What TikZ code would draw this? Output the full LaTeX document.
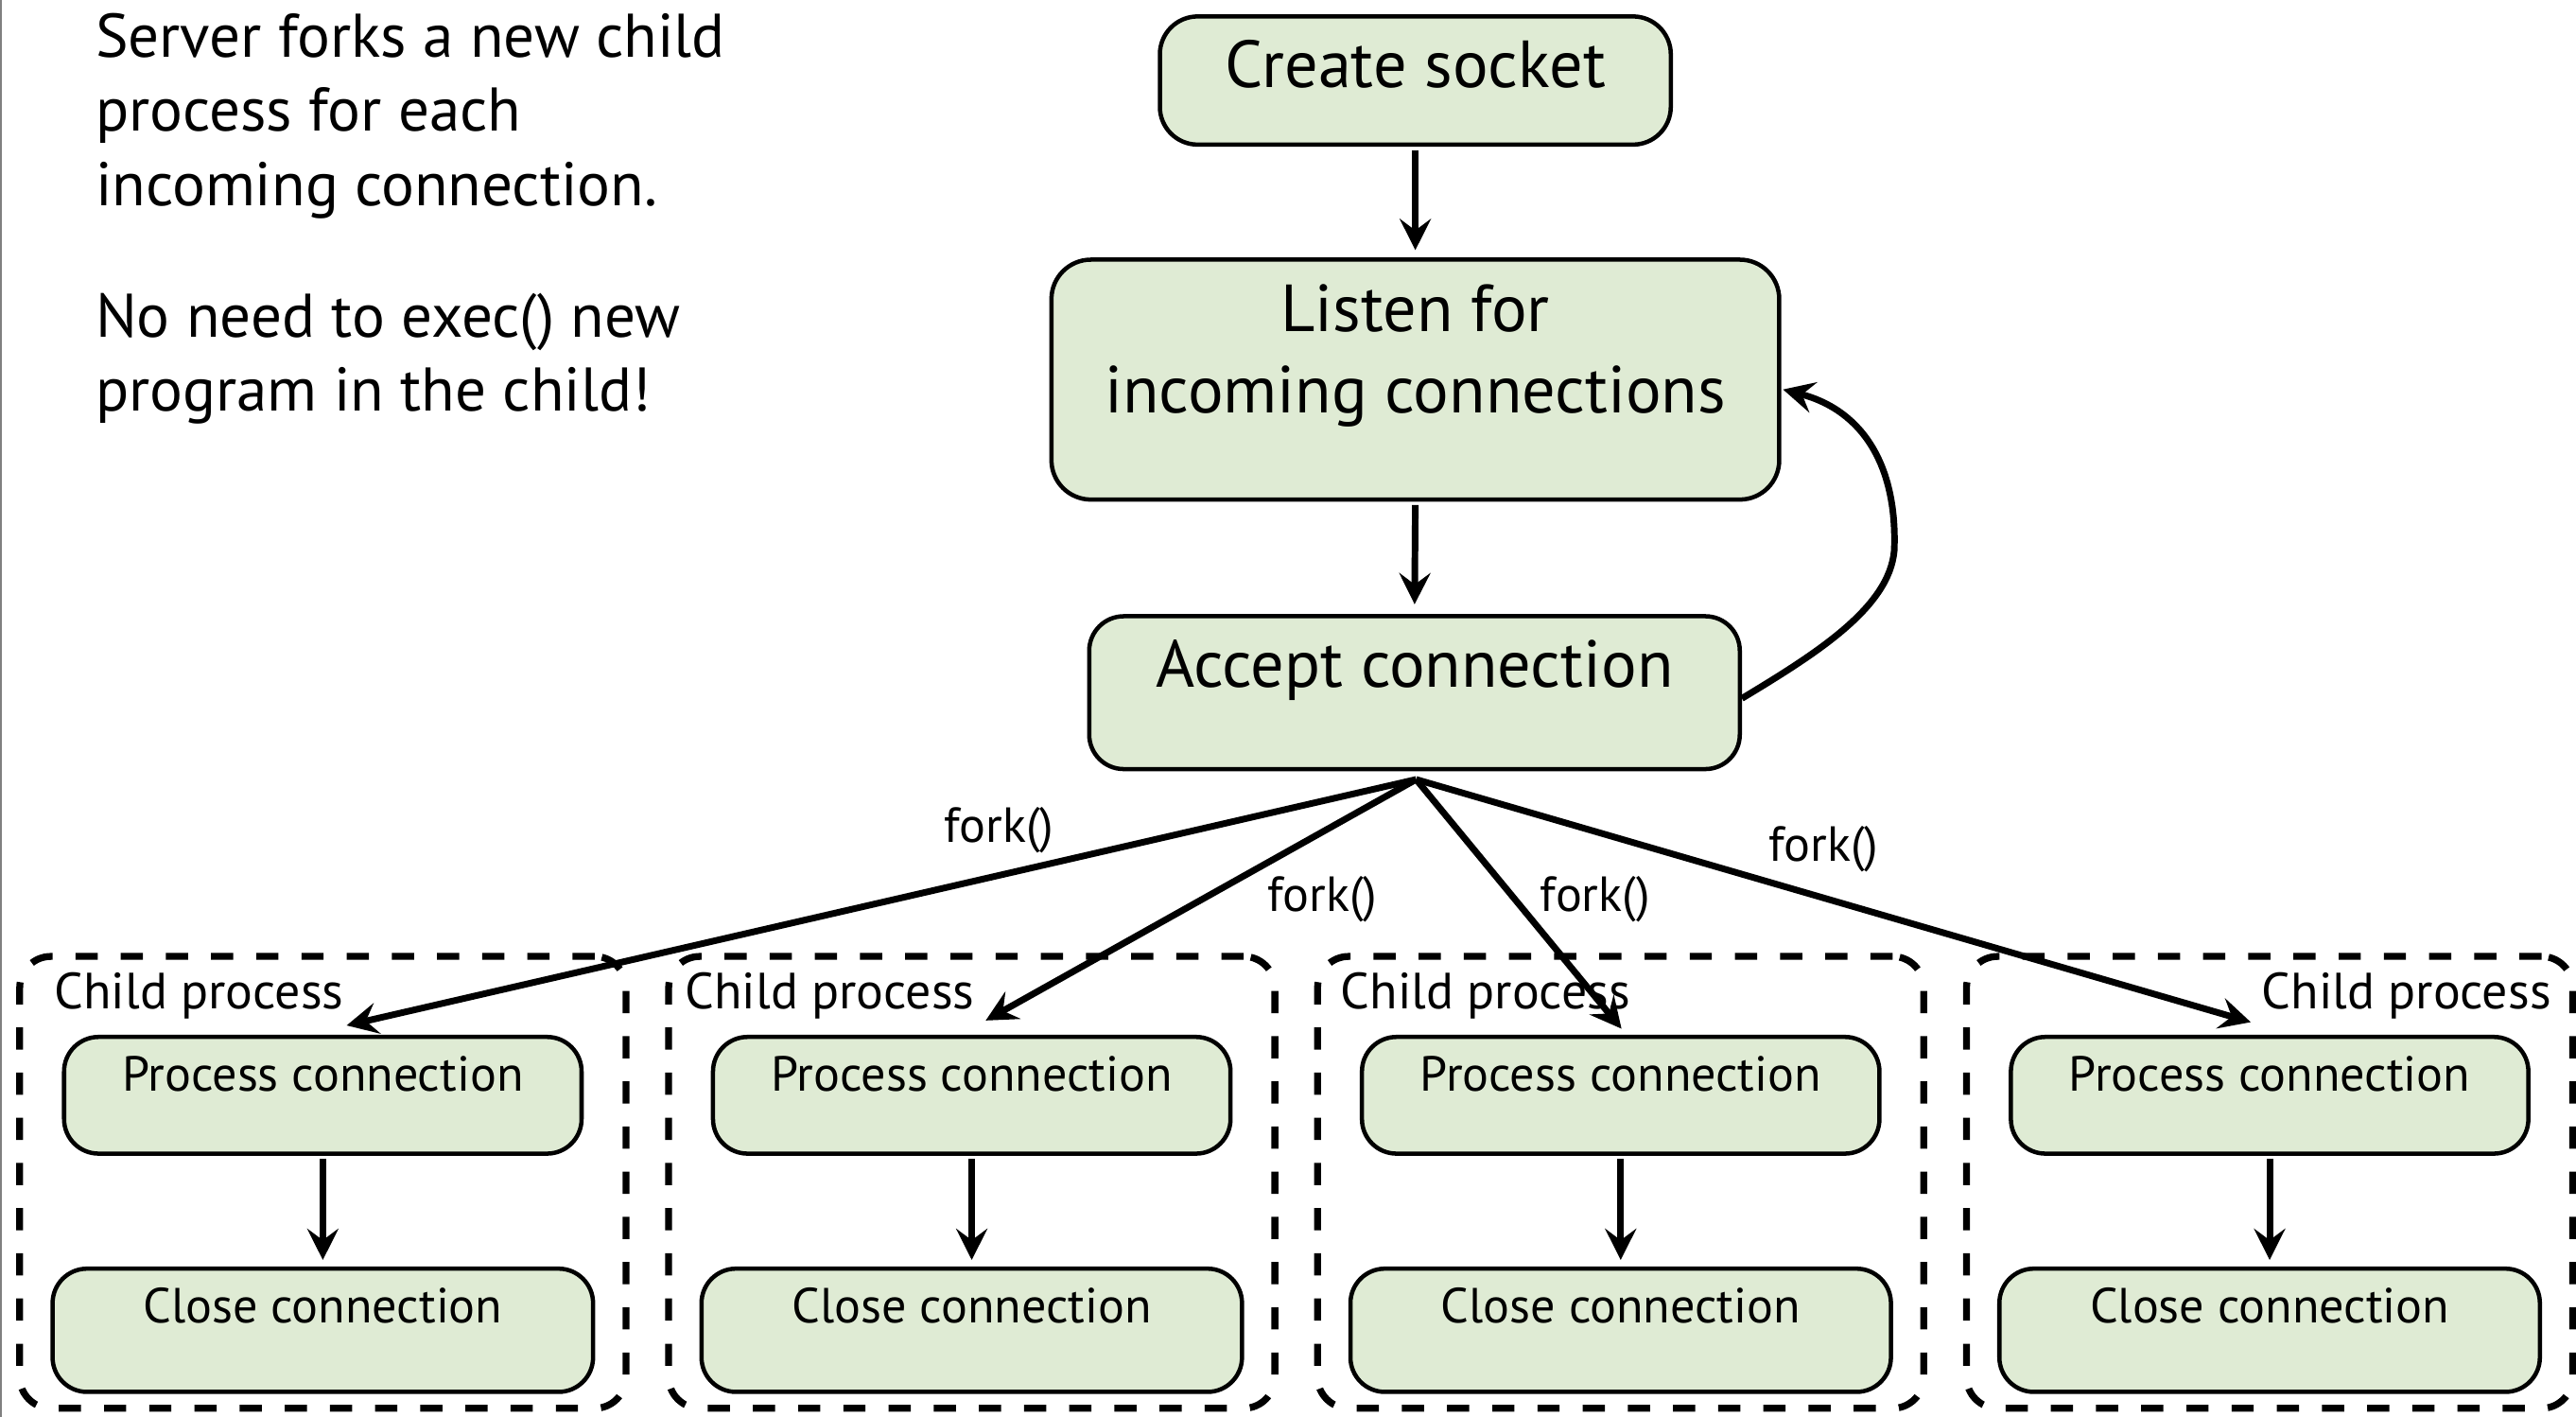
\documentclass[tikz,border=0pt]{standalone}
\usepackage{fontspec}
\setmainfont{PT Sans}
\usetikzlibrary{arrows.meta,calc}
\definecolor{boxfill}{RGB}{223,235,212}
\begin{document}
\begin{tikzpicture}[x=1pt,y=-1pt,
  box/.style={draw=black, line width=2.6pt, fill=boxfill, rounded corners=21pt, inner sep=0pt},
  arr/.style={line width=4pt, -{Stealth[length=19pt,width=19pt,inset=7pt]}},
  grp/.style={draw=black, line width=4.2pt, dash pattern=on 13.5pt off 14pt, rounded corners=19pt, inner sep=0pt},
  bigtxt/.style={font=\fontsize{40.5}{48}\selectfont, inner sep=0pt, anchor=base},
  notetxt/.style={font=\fontsize{37.5}{45}\selectfont, inner sep=0pt, anchor=base west, align=left},
  smalltxt/.style={font=\fontsize{30}{34}\selectfont, inner sep=0pt, anchor=base},
  childtxt/.style={font=\fontsize{31}{34}\selectfont, inner sep=0pt},
  forktxt/.style={font=\fontsize{30}{34}\selectfont, inner sep=0pt}
]
\useasboundingbox (0,0) rectangle (1568,862);
\draw[gray, line width=0.8pt] (0.5,0) -- (0.5,862);

\node[notetxt] (note1) at (58,125) {Server forks a new child\\process for each\\incoming connection.};
\node[notetxt] (note2) at (58,250) {No need to exec() new\\program in the child!};

\node[box, minimum width=311pt, minimum height=78pt, rounded corners=23pt] (create) at (861.5,49) {};
\node[bigtxt] (createT) at (861.5,53.5) {Create socket};
\node[box, minimum width=443pt, minimum height=146pt, rounded corners=24pt] (listen) at (861.5,231) {};
\node[bigtxt] (listenT1) at (861.5,202) {Listen for};
\node[bigtxt] (listenT2) at (861.5,251) {incoming connections};
\node[box, minimum width=396pt, minimum height=93pt] (accept) at (861,421.5) {};
\node[bigtxt] (acceptT) at (861,418.4) {Accept connection};

\draw[arr, shorten <=2pt, shorten >=4.5pt] (create.south) -- (listen.north);
\draw[arr, shorten <=2pt, shorten >=6pt] (listen.south) -- (accept.north);
\coordinate (loopend) at ($(listen.east)+(1,6)$);
\draw[arr] ($(accept.east)+(0,3.5)$) .. controls (1105,398) and (1150,370) .. (1153,335)
  .. controls (1155,285) and (1135,250) .. (loopend);

\coordinate (forkpt) at ($(accept.south)+(1,5)$);

\foreach \i in {1,2,3,4}{
  \pgfmathsetmacro{\cx}{196.5+395*(\i-1)}
  \node[grp, minimum width=369pt, minimum height=275pt] (g\i) at ({12+395*(\i-1)+184.5},719.5) {};
  \node[box, minimum width=315pt, minimum height=71pt] (p\i) at (\cx,666.5) {};
  \node[smalltxt] (pT\i) at (\cx,664) {Process connection};
  \node[box, minimum width=329pt, minimum height=75pt] (c\i) at (\cx,809.5) {};
  \node[smalltxt] (cT\i) at (\cx,805) {Close connection};
  \draw[arr, shorten <=2pt, shorten >=4pt] (p\i.south) -- (c\i.north);
}
\node[childtxt, anchor=base west] (gT1) at (33,614) {Child process};
\node[childtxt, anchor=base west] (gT2) at (417,614) {Child process};
\node[childtxt, anchor=base west] (gT3) at (816,614) {Child process};
\node[childtxt, anchor=base east] (gT4) at (1553,614) {Child process};

\coordinate (t1) at (211,624);
\coordinate (t2) at (600,621);
\coordinate (t3) at (987,626);
\coordinate (t4) at (1370,622);
\foreach \i in {1,2,3,4}{ \draw[arr] (forkpt) -- (t\i); }

\node[forktxt] (f1) at (608,505) {fork()};
\node[forktxt] (f2) at (805,547) {fork()};
\node[forktxt] (f3) at (971,547) {fork()};
\node[forktxt] (f4) at (1110,517) {fork()};
\end{tikzpicture}
\end{document}
